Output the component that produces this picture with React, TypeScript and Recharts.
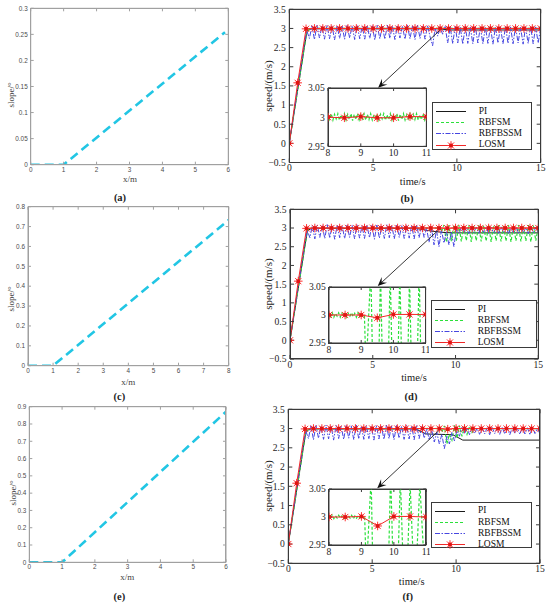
import React from "react";
import { LineChart, Line, XAxis, YAxis, ReferenceLine, Legend } from "recharts";

type Pt = { t: number; v: number };
const zip = (t: number[], v: number[]): Pt[] => t.map((x, i) => ({ t: x, v: v[i] }));
const steps = (start: number, step: number, n: number) =>
  Array.from({ length: n }, (_, i) => Math.round((start + i * step) * 1000) / 1000);

// ---- slope profiles (a) (c) (e)
const slopeXA = [0, 1, 5.9];
const slopeYA = [0, 0, 0.254];
const slopeXC = [0, 1, 8];
const slopeYC = [0, 0, 0.733];
const slopeXE = [0, 1, 6];
const slopeYE = [0, 0, 0.871];
const distTicks6 = [0, 1, 2, 3, 4, 5, 6];
const distTicks8 = [0, 1, 2, 3, 4, 5, 6, 7, 8];
const slopeTicksA = [0, 0.05, 0.1, 0.15, 0.2, 0.25, 0.3];
const slopeTicksC = [0, 0.1, 0.2, 0.3, 0.4, 0.5, 0.6, 0.7, 0.8];
const slopeTicksE = [0, 0.1, 0.2, 0.3, 0.4, 0.5, 0.6, 0.7, 0.8, 0.9];

// ---- speed responses (b) (d) (f)
const seriesNames = ["PI", "RBFSM", "RBFBSSM", "LOSM"];
const timeTicks = [0, 5, 10, 15];
const speedTicks = [-0.5, 0, 0.5, 1, 1.5, 2, 2.5, 3, 3.5];
const zoomTimeTicks = [8, 9, 10, 11];
const zoomSpeedTicks = [2.95, 3, 3.05];

const piTimeB = [0, 1.05, 1.3, 9.0, 9.5, 15];
const piB = [0, 2.93, 2.99, 2.99, 2.96, 2.96];
const piTimeD = [0, 1.05, 1.3, 7.6, 8.5, 9.3, 10, 15];
const piD = [0, 2.93, 2.99, 2.99, 2.92, 2.88, 2.87, 2.87];
const piTimeF = [0, 1.05, 1.3, 7.6, 8.2, 9.8, 10.4, 15];
const piF = [0, 2.93, 2.99, 2.99, 2.86, 2.84, 2.7, 2.7];

const losmTime = steps(0, 0.5, 31);
const losmB = [0, 1.58, 2.99, 3, 3, 3, 3, 3, 3, 3, 3, 3, 3, 3, 3, 3,
  3.0, 2.999, 3.001, 2.999, 2.999, 3.001, 3.001, 3, 3, 3, 3, 3, 3, 3, 3];
const losmD = [0, 1.58, 2.99, 3, 3, 3, 3, 3, 3, 3, 3, 3, 3, 3, 3, 3,
  3.0, 3.0, 3.0, 2.995, 3.001, 3.001, 3.001, 3, 3, 3, 3, 3, 3, 3, 3];
const losmF = [0, 1.58, 2.99, 3, 3, 3, 3, 3, 3, 3, 3, 3, 3, 3, 3, 3,
  3.0, 3.0, 3.001, 2.984, 3.001, 3.001, 3.0, 3, 3, 3, 3, 3, 3, 3, 3];

const bssmTime = steps(0, 0.15, 101);
const bssmRamp = [0, 0.44, 0.87, 1.31, 1.74, 2.18, 2.61, 2.93];
const bssmSteady = [
  2.74, 3.07, 2.71, 3.08, 2.75, 3.06, 2.72, 3.09, 2.73, 3.07,
  2.70, 3.08, 2.74, 3.06, 2.72, 3.08, 2.75, 3.07, 2.71, 3.09,
  2.73, 3.06, 2.72, 3.08, 2.74, 3.07, 2.70, 3.08, 2.73, 3.06,
  2.72, 3.09, 2.74, 3.07, 2.71, 3.08, 2.75, 3.06, 2.72, 3.08,
  2.73, 3.07, 2.71, 3.09, 2.74];
const bssmLateB = [
  3.06, 2.72, 3.08, 2.78, 2.55, 3.0, 2.8, 3.02, 2.85, 3.05, 2.62,
  3.04, 2.60, 3.05, 2.62, 3.03, 2.59, 3.05, 2.61, 3.04, 2.60,
  3.05, 2.62, 3.03, 2.60, 3.04, 2.61, 3.05, 2.59, 3.04, 2.62,
  3.03, 2.60, 3.05, 2.61, 3.04, 2.60, 3.05, 2.62, 3.03, 2.59,
  3.04, 2.61, 3.05, 2.60, 3.04, 2.62, 3.03];
const bssmLateD = [
  3.05, 2.75, 3.0, 2.62, 3.0, 2.55, 2.95, 2.5, 2.95, 2.6, 2.9, 2.55, 2.9, 2.5, 2.95,
  2.86, 3.02, 2.88, 3.01, 2.85, 3.03, 2.87, 3.02, 2.86, 3.01,
  2.88, 3.03, 2.85, 3.02, 2.87, 3.01, 2.86, 3.03, 2.88, 3.02,
  2.85, 3.01, 2.87, 3.03, 2.86, 3.02, 2.88, 3.01, 2.85, 3.03,
  2.87, 3.02, 2.86];
const bssmLateF = [
  3.05, 2.75, 3.0, 2.7, 2.95, 2.65, 2.9, 2.6, 2.85, 2.48, 2.8, 2.6, 2.9, 2.68, 2.95, 2.8,
  3.03, 2.86, 3.02, 2.84, 3.03, 2.87, 3.01, 2.85, 3.03, 2.86,
  3.02, 2.84, 3.03, 2.87, 3.01, 2.85, 3.03, 2.86, 3.02, 2.84,
  3.03, 2.87, 3.01, 2.85, 3.03, 2.86, 3.02, 2.84, 3.03, 2.87,
  3.01, 2.85];

const rbfsmLeadTime = [0, 1.05, 1.3, 7.95];
const rbfsmLead = [0, 2.93, 3.0, 3.0];
const rbfsmFineB = [
  3.004, 2.996, 3.006, 2.995, 3.005, 2.997, 3.006, 2.995, 3.004, 2.996,
  3.006, 2.995, 3.005, 2.996, 3.006, 2.994, 3.005, 2.996, 3.006, 2.995,
  3.004, 2.997, 3.006, 2.995, 3.005, 2.996, 3.006, 2.995, 3.004, 2.996,
  3.006, 2.995, 3.005, 2.997, 3.006, 2.995, 3.004, 2.996, 3.006, 2.995,
  3.005, 2.996, 3.006, 2.994, 3.005, 2.996, 3.006, 2.995, 3.004, 2.997,
  3.006, 2.995, 3.005, 2.996, 3.006, 2.995, 3.004, 2.996, 3.006, 2.995,
  3.003];
const rbfsmTailTimeB = [11.3, 15];
const rbfsmTailB = [3.0, 3.0];
const rbfsmFineD = [
  3.003, 2.997, 3.004, 2.996, 3.003, 2.998, 3.004, 2.996, 3.003, 2.997,
  3.004, 2.996, 3.003, 2.998, 3.004, 2.997, 3.003, 2.996, 3.004, 2.997,
  3.003, 2.998, 3.0];
const rbfsmCoarseD = [
  2.9, 3.08, 2.62, 3.08, 2.65, 3.08, 2.66, 3.08, 2.64, 3.07,
  2.66, 3.08, 2.63, 3.07, 2.66, 3.08, 2.64, 3.07, 2.65, 3.08,
  2.63, 3.07, 2.66, 3.08, 2.64, 3.07, 2.65, 3.08, 2.63, 3.07,
  2.66, 3.08, 2.64, 3.07, 2.65, 3.08, 2.63, 3.07, 2.66, 3.05];
const rbfsmFineF = [
  3.002, 2.998, 3.003, 2.997, 3.002, 2.998, 3.003, 2.998, 3.002, 2.997,
  3.003, 2.998, 3.002, 2.998, 3.003, 2.997, 3.002, 2.998, 3.003, 2.998,
  3.002, 2.999, 3.001];
const rbfsmCoarseF = [2.9, 3.07, 2.6, 2.85, 2.7, 3.08, 2.75, 3.07, 2.8, 3.06, 2.85, 3.06, 2.9, 3.0];
const rbfsmTailTimeF = [11.4, 15];
const rbfsmTailF = [3.0, 3.0];

const arrowFrom = { x: 9.1, y: 3.0 };
const arrowTo = { x: 5.3, y: 1.45 };

// ---- assembled series
const seriesB = {
  pi: zip(piTimeB, piB),
  rbfsm: [...zip(rbfsmLeadTime, rbfsmLead), ...zip(steps(8, 0.05, 61), rbfsmFineB), ...zip(rbfsmTailTimeB, rbfsmTailB)],
  bssm: zip(bssmTime, [...bssmRamp, ...bssmSteady, ...bssmLateB]),
  losm: zip(losmTime, losmB),
};
const seriesD = {
  pi: zip(piTimeD, piD),
  rbfsm: [...zip(rbfsmLeadTime, rbfsmLead), ...zip(steps(8, 0.05, 23), rbfsmFineD), ...zip(steps(9.15, 0.15, 40), rbfsmCoarseD)],
  bssm: zip(bssmTime, [...bssmRamp, ...bssmSteady, ...bssmLateD]),
  losm: zip(losmTime, losmD),
};
const seriesF = {
  pi: zip(piTimeF, piF),
  rbfsm: [...zip(rbfsmLeadTime, rbfsmLead), ...zip(steps(8, 0.05, 23), rbfsmFineF), ...zip(steps(9.15, 0.15, 14), rbfsmCoarseF), ...zip(rbfsmTailTimeF, rbfsmTailF)],
  bssm: zip(bssmTime, [...bssmRamp, ...bssmSteady, ...bssmLateF]),
  losm: zip(losmTime, losmF),
};

const serif = "'Liberation Serif', 'DejaVu Serif', serif";
const sans = "'Liberation Sans', Arial, sans-serif";
const lightAxis = "#a0a0a0";
const darkAxis = "#3a3a3a";
const cyan = "#22c6e4";

const lineStyle: Record<string, { stroke: string; dash?: string; width: number }> = {
  PI: { stroke: "#1a1a1a", width: 1 },
  RBFSM: { stroke: "#2be03a", dash: "3 2", width: 1.2 },
  RBFBSSM: { stroke: "#4646e0", dash: "5 1.5 1.5 1.5", width: 1 },
  LOSM: { stroke: "#f02828", width: 1 },
};

const Star = ({ cx, cy, r = 4.3 }: { cx: number; cy: number; r?: number }) => {
  const d = r * 0.72;
  return (
    <g stroke="#ff3030" strokeWidth={1}>
      <line x1={cx - r} y1={cy} x2={cx + r} y2={cy} />
      <line x1={cx} y1={cy - r} x2={cx} y2={cy + r} />
      <line x1={cx - d} y1={cy - d} x2={cx + d} y2={cy + d} />
      <line x1={cx - d} y1={cy + d} x2={cx + d} y2={cy - d} />
      <rect x={cx - 1.8} y={cy - 1.8} width={3.6} height={3.6} fill="#e01414" stroke="none" />
    </g>
  );
};

const starDot = (p: any) =>
  p.cx == null ? <g key={p.index} /> : <Star key={p.index} cx={p.cx} cy={p.cy} />;

const ArrowShape = (p: any) => {
  const { x1, y1, x2, y2 } = p;
  const a = Math.atan2(y2 - y1, x2 - x1);
  const len = 9;
  const half = 4;
  const c = Math.cos(a);
  const s = Math.sin(a);
  const bx = x2 - len * c;
  const by = y2 - len * s;
  const mx = x2 - len * 0.6 * c;
  const my = y2 - len * 0.6 * s;
  return (
    <g>
      <line x1={x1} y1={y1} x2={mx} y2={my} stroke="#222" strokeWidth={0.9} />
      <polygon
        points={`${x2},${y2} ${bx - s * half},${by + c * half} ${mx},${my} ${bx + s * half},${by - c * half}`}
        fill="#111"
      />
    </g>
  );
};

const Title = ({ x, y, text, size, rotate, bold, family, color }: any) => (
  <div
    style={{
      position: "absolute",
      left: x,
      top: y,
      transform: `translate(-50%, -50%)${rotate ? " rotate(-90deg)" : ""}`,
      whiteSpace: "nowrap",
      fontSize: size,
      lineHeight: 1,
      fontFamily: family || serif,
      fontWeight: bold ? 700 : 400,
      color: color || "#222",
    }}
  >
    {text}
  </div>
);

// thin frame drawn over a plot box, so all four sides show like a MATLAB "box on"
const Frame = ({ box, color, fill }: { box: Box; color: string; fill?: string }) => (
  <div
    style={{
      position: "absolute",
      left: box.l - 0.5,
      top: box.t - 0.5,
      width: box.r - box.l + 1,
      height: box.b - box.t + 1,
      border: `1px solid ${color}`,
      boxSizing: "border-box",
      background: fill || "transparent",
      pointerEvents: "none",
    }}
  />
);

type Box = { l: number; r: number; t: number; b: number };

function SlopePanel(props: {
  top: number; plot: Box; xs: number[]; ys: number[]; xTicks: number[]; yTicks: number[];
  xTitle: [number, number]; yTitle: [number, number]; tag: [number, number]; label: string;
}) {
  const { top, plot, xs, ys, xTicks, yTicks, xTitle, yTitle, tag, label } = props;
  const W = 240;
  const H = plot.b - top + 14;
  const data = xs.map((x, i) => ({ x, y: ys[i] }));
  const xDom = [xTicks[0], xTicks[xTicks.length - 1]];
  const yDom = [yTicks[0], yTicks[yTicks.length - 1]];
  const tickStyle = { fill: "#4a4a4a", fontSize: 6.4, fontFamily: sans };
  return (
    <>
      <div style={{ position: "absolute", left: 0, top }}>
        <LineChart width={W} height={H} data={data} margin={{ top: plot.t - top - 1, right: W - plot.r - 1, left: 0, bottom: 0 }}>
          <XAxis dataKey="x" type="number" domain={xDom} ticks={xTicks} interval={0} height={14}
            tickSize={-3} tickMargin={5.5} stroke={lightAxis} tick={tickStyle} allowDataOverflow />
          <XAxis xAxisId="top" orientation="top" dataKey="x" type="number" domain={xDom} ticks={xTicks}
            interval={0} height={1} tickSize={-3} stroke={lightAxis} tickFormatter={() => ""} allowDataOverflow />
          <YAxis type="number" domain={yDom} ticks={yTicks} interval={0} width={plot.l}
            tickSize={-3} tickMargin={6} stroke={lightAxis} tick={tickStyle} allowDataOverflow />
          <YAxis yAxisId="right" orientation="right" type="number" domain={yDom} ticks={yTicks}
            interval={0} width={1} tickSize={-3} stroke={lightAxis} tickFormatter={() => ""} allowDataOverflow />
          <Line dataKey="y" stroke={cyan} strokeWidth={2.6} strokeDasharray="9 5" dot={false}
            activeDot={false} isAnimationActive={false} />
        </LineChart>
      </div>
      <Frame box={plot} color={lightAxis} />
      <Title x={yTitle[0]} y={yTitle[1]} text="slope/°" size={9} rotate color="#444" />
      <Title x={xTitle[0]} y={xTitle[1]} text="x/m" size={9} color="#444" />
      <Title x={tag[0]} y={tag[1]} text={label} size={10.5} bold />
    </>
  );
}

function SpeedPanel(props: {
  top: number; plot: Box; inset: Box; legend: { l: number; t: number; w: number; h: number };
  series: { pi: Pt[]; rbfsm: Pt[]; bssm: Pt[]; losm: Pt[] };
  xTitle: [number, number]; yTitle: [number, number]; tag: [number, number]; label: string;
}) {
  const { top, plot, inset, legend, series, xTitle, yTitle, tag, label } = props;
  const L = 250;
  const W = 300;
  const H = plot.b - top + 16;
  const tickStyle = { fill: "#1e1e1e", fontSize: 9.6, fontFamily: serif };
  const fmt = (v: number) => (v < 0 ? "\u2212" + Math.abs(v) : String(v));
  const legendContent = (lp: any) => {
    const items = [...(lp.payload || [])].sort(
      (a: any, b: any) => seriesNames.indexOf(a.value) - seriesNames.indexOf(b.value)
    );
    return (
      <div style={{ width: legend.w, height: legend.h, border: `1px solid ${darkAxis}`, background: "#fff", boxSizing: "border-box", position: "relative" }}>
        {items.map((p: any, i: number) => {
          const st = lineStyle[p.value];
          return (
            <div key={p.value} style={{ position: "absolute", left: 0, top: 3 + i * 11.1, height: 11, display: "flex", alignItems: "center" }}>
              <svg width={36} height={11} style={{ display: "block" }}>
                <line x1={3} y1={5.5} x2={33} y2={5.5} stroke={st.stroke} strokeWidth={st.width} strokeDasharray={st.dash} />
                {p.value === "LOSM" && <Star cx={18} cy={5.5} />}
              </svg>
              <span style={{ marginLeft: 10, fontFamily: serif, fontSize: 9.5, color: "#111", lineHeight: 1 }}>{p.value}</span>
            </div>
          );
        })}
      </div>
    );
  };
  const inWindow = (d: Pt[]) => d.filter((p) => p.t >= 7.9 && p.t <= 11.2);
  const IW = inset.r - inset.l + 32;
  const IH = inset.b - inset.t + 22;
  return (
    <>
      <div style={{ position: "absolute", left: L, top }}>
        <LineChart width={W} height={H} margin={{ top: plot.t - top - 1, right: L + W - plot.r - 1, left: 0, bottom: 0 }}>
          <XAxis dataKey="t" type="number" domain={[0, 15]} ticks={timeTicks} interval={0} height={16}
            tickSize={-4} tickMargin={6} stroke={darkAxis} tick={tickStyle} allowDataOverflow />
          <XAxis xAxisId="top" orientation="top" dataKey="t" type="number" domain={[0, 15]} ticks={timeTicks}
            interval={0} height={1} tickSize={-4} stroke={darkAxis} tickFormatter={() => ""} allowDataOverflow />
          <YAxis type="number" domain={[-0.5, 3.5]} ticks={speedTicks} interval={0} width={plot.l - L}
            tickSize={-4} tickMargin={7.5} stroke={darkAxis} tick={tickStyle} tickFormatter={fmt} allowDataOverflow />
          <YAxis yAxisId="right" orientation="right" type="number" domain={[-0.5, 3.5]} ticks={speedTicks}
            interval={0} width={1} tickSize={-4} stroke={darkAxis} tickFormatter={() => ""} allowDataOverflow />
          <Line data={series.pi} dataKey="v" name="PI" stroke={lineStyle.PI.stroke} strokeWidth={1}
            dot={false} activeDot={false} isAnimationActive={false} />
          <Line data={series.rbfsm} dataKey="v" name="RBFSM" stroke={lineStyle.RBFSM.stroke} strokeWidth={1.2}
            strokeDasharray={lineStyle.RBFSM.dash} dot={false} activeDot={false} isAnimationActive={false} />
          <Line data={series.bssm} dataKey="v" name="RBFBSSM" stroke={lineStyle.RBFBSSM.stroke} strokeWidth={1}
            strokeDasharray={lineStyle.RBFBSSM.dash} dot={false} activeDot={false} isAnimationActive={false} />
          <Line data={series.losm} dataKey="v" name="LOSM" stroke={lineStyle.LOSM.stroke} strokeWidth={1}
            dot={starDot} activeDot={false} isAnimationActive={false} />
          <ReferenceLine segment={[arrowFrom, arrowTo]} shape={ArrowShape} ifOverflow="visible" />
          <Legend layout="vertical" align="center" verticalAlign="middle" content={legendContent}
            wrapperStyle={{ left: legend.l - L, top: legend.t - top, width: legend.w, height: legend.h }} />
        </LineChart>
      </div>
      <Frame box={plot} color={darkAxis} />
      <Frame box={inset} color={darkAxis} fill="#fff" />
      <div style={{ position: "absolute", left: inset.l - 28, top: inset.t - 9 }}>
        <LineChart width={IW} height={IH + 1} margin={{ top: 8, right: 3, left: 0, bottom: 0 }}>
          <XAxis dataKey="t" type="number" domain={[8, 11]} ticks={zoomTimeTicks} interval={0} height={14}
            tickSize={-3} tickMargin={6} stroke={darkAxis} tick={tickStyle} allowDataOverflow />
          <XAxis xAxisId="top" orientation="top" dataKey="t" type="number" domain={[8, 11]} ticks={zoomTimeTicks}
            interval={0} height={1} tickSize={-3} stroke={darkAxis} tickFormatter={() => ""} allowDataOverflow />
          <YAxis type="number" domain={[2.95, 3.05]} ticks={zoomSpeedTicks} interval={0} width={28}
            tickSize={-3} tickMargin={6.3} stroke={darkAxis} tick={tickStyle} allowDataOverflow />
          <YAxis yAxisId="right" orientation="right" type="number" domain={[2.95, 3.05]} ticks={zoomSpeedTicks}
            interval={0} width={1} tickSize={-3} stroke={darkAxis} tickFormatter={() => ""} allowDataOverflow />
          <Line data={inWindow(series.rbfsm)} dataKey="v" stroke={lineStyle.RBFSM.stroke} strokeWidth={1.2}
            strokeDasharray={lineStyle.RBFSM.dash} dot={false} activeDot={false} isAnimationActive={false} />
          <Line data={inWindow(series.losm)} dataKey="v" stroke={lineStyle.LOSM.stroke} strokeWidth={1}
            dot={starDot} activeDot={false} isAnimationActive={false} />
        </LineChart>
      </div>
      <Title x={yTitle[0]} y={yTitle[1]} text="speed/(m/s)" size={11} rotate />
      <Title x={xTitle[0]} y={xTitle[1]} text="time/s" size={10.5} />
      <Title x={tag[0]} y={tag[1]} text={label} size={10.5} bold />
    </>
  );
}

export default function App() {
  return (
    <div style={{ position: "absolute", left: 0, top: 0, width: 550, height: 609, background: "#fff", overflow: "hidden" }}>
      <SlopePanel top={0} plot={{ l: 30.7, r: 228.3, t: 8.3, b: 164.7 }} xs={slopeXA} ys={slopeYA}
        xTicks={distTicks6} yTicks={slopeTicksA} xTitle={[130, 178.5]} yTitle={[10.7, 95]} tag={[120, 197.5]} label="(a)" />
      <SlopePanel top={200} plot={{ l: 28, r: 228.7, t: 206.7, b: 365.7 }} xs={slopeXC} ys={slopeYC}
        xTicks={distTicks8} yTicks={slopeTicksC} xTitle={[128.3, 381.7]} yTitle={[11, 299]} tag={[119.3, 396.7]} label="(c)" />
      <SlopePanel top={400} plot={{ l: 29.3, r: 226, t: 406.7, b: 562.3 }} xs={slopeXE} ys={slopeYE}
        xTicks={distTicks6} yTicks={slopeTicksE} xTitle={[127.3, 576.7]} yTitle={[12.7, 493]} tag={[119.3, 596.7]} label="(e)" />
      <SpeedPanel top={0} plot={{ l: 289.3, r: 540.7, t: 9.3, b: 162.5 }} inset={{ l: 328.3, r: 426.7, t: 88.3, b: 146.7 }}
        legend={{ l: 431.7, t: 102.3, w: 100, h: 47.7 }} series={seriesB}
        xTitle={[412.7, 181.7]} yTitle={[268.3, 86]} tag={[407, 199]} label="(b)" />
      <SpeedPanel top={200} plot={{ l: 290, r: 538.3, t: 209.3, b: 359 }} inset={{ l: 328.7, r: 425.3, t: 287, b: 343 }}
        legend={{ l: 430.7, t: 300, w: 106, h: 47.7 }} series={seriesD}
        xTitle={[414, 378.3]} yTitle={[268.3, 284]} tag={[411, 397.3]} label="(d)" />
      <SpeedPanel top={400} plot={{ l: 288.3, r: 540, t: 409.3, b: 563.3 }} inset={{ l: 328.7, r: 426, t: 489, b: 545 }}
        legend={{ l: 431, t: 501.7, w: 100.7, h: 46.6 }} series={seriesF}
        xTitle={[411.7, 581.7]} yTitle={[268.3, 486]} tag={[407.7, 596.7]} label="(f)" />
    </div>
  );
}
